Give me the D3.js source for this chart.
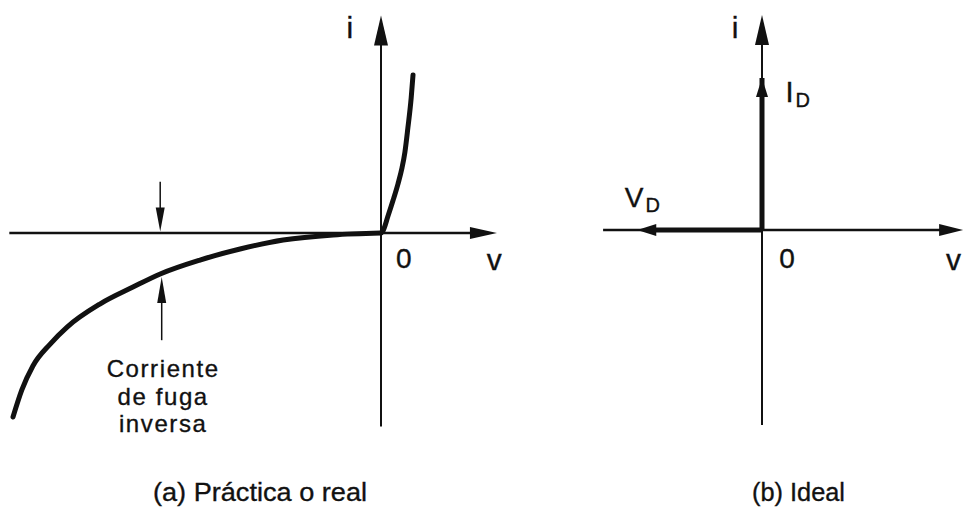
<!DOCTYPE html>
<html>
<head>
<meta charset="utf-8">
<script src="https://cdn.jsdelivr.net/npm/d3@7"></script>
<style>
  body { margin: 0; background: #fff; }
  svg { display: block; }
  text { font-family: "Liberation Sans", Arial, Helvetica, sans-serif; fill: #111; stroke: #111; stroke-width: 0.35px; }
</style>
</head>
<body>
<div id="chart"></div>
<script>
// Curva práctica del diodo (v, i) en unidades arbitrarias
const reverseCurve = [
    { v: -10.0, i: -11.5 }, { v: -9.76, i: -9.81 }, { v: -9.46, i: -8.31 },
    { v: -8.99, i: -6.94 }, { v: -8.53, i: -5.88 }, { v: -7.64, i: -4.44 },
    { v: -6.74, i: -3.38 }, { v: -6.0, i: -2.56 }, { v: -4.92, i: -1.69 },
    { v: -3.83, i: -1.0 }, { v: -2.66, i: -0.44 }, { v: -1.3, i: -0.12 },
    { v: 0, i: 0 }
];
const forwardCurve = [
    { v: 0, i: 0 }, { v: 0.05, i: 0.12 }, { v: 0.19, i: 1.06 }, { v: 0.33, i: 2.06 },
    { v: 0.46, i: 3.06 }, { v: 0.57, i: 4.06 }, { v: 0.65, i: 5.06 },
    { v: 0.73, i: 6.56 }, { v: 0.82, i: 8.44 }, { v: 0.87, i: 9.88 }
];

// Característica ideal
const idealForward = [{ v: 0, i: 0 }, { v: 0, i: 9.5 }];
const idealReverse = [{ v: 0, i: 0 }, { v: -3.4, i: 0 }];

// Textos
const leakMarkV = -6.0;
const leakLabel = ["Corriente", "de fuga", "inversa"];
const captions = ["(a) Práctica o real", "(b) Ideal"];
const axisNames = { x: "v", y: "i", origin: "0" };

const width = 964, height = 508;
const ink = "#111";

const svg = d3.select("#chart").append("svg")
    .attr("width", width)
    .attr("height", height);

// Escalas de cada panel (36.8 px por voltio, 16 px por unidad de corriente)
const xA = d3.scaleLinear().domain([-10, 0]).range([13, 381]);
const yA = d3.scaleLinear().domain([0, 10]).range([233, 73]);
const xB = d3.scaleLinear().domain([-10, 0]).range([395, 762]);
const yB = d3.scaleLinear().domain([0, 10]).range([230, 70]);

// Triángulo relleno con la punta en tip, apuntando en dir
const arrowHead = (g, tip, dir, len, half) => {
    const [x, y] = tip, [dx, dy] = dir;
    const bx = x - dx * len, by = y - dy * len;
    const px = -dy * half, py = dx * half;
    g.append("path")
        .attr("d", `M${x},${y}L${bx + px},${by + py}L${bx - px},${by - py}Z`)
        .attr("fill", ink);
};

const segment = (g, x1, y1, x2, y2, w) => {
    g.append("line")
        .attr("x1", x1).attr("y1", y1)
        .attr("x2", x2).attr("y2", y2)
        .attr("stroke", ink)
        .attr("stroke-width", w);
};

/**
 * Panel (a): característica práctica
 */
const gA = svg.append("g");

// ejes
segment(gA, xA(-10.1), yA(0), xA(3.15) - 10, yA(0), 2.5);
arrowHead(gA, [xA(3.15), yA(0)], [1, 0], 27, 6);
segment(gA, xA(0), yA(-12.1), xA(0), yA(13.6) + 10, 2);
arrowHead(gA, [xA(0), yA(13.6)], [0, -1], 30, 7);

const lineA = d3.line()
    .x(d => xA(d.v))
    .y(d => yA(d.i))
    .curve(d3.curveMonotoneX);

[reverseCurve, forwardCurve].forEach(data => {
    gA.append("path")
        .datum(data)
        .attr("d", lineA)
        .attr("fill", "none")
        .attr("stroke", ink)
        .attr("stroke-width", 5)
        .attr("stroke-linecap", "round");
});

// flechas de la corriente de fuga
const leakI = reverseCurve.find(d => d.v === leakMarkV).i;
const lx = xA(leakMarkV);
segment(gA, lx, yA(3.2), lx, yA(0) - 20, 1.5);
arrowHead(gA, [lx, yA(0) - 1.5], [0, 1], 24, 4.5);
segment(gA, lx + 1.5, yA(-6.7), lx + 1.5, yA(leakI) + 22, 1.5);
arrowHead(gA, [lx + 1.5, yA(leakI) + 3], [0, -1], 26, 4.5);

gA.selectAll(".leak")
    .data(leakLabel)
    .join("text")
    .attr("class", "leak")
    .attr("x", lx + 3)
    .attr("y", (d, k) => yA(-9) + k * 27.5)
    .attr("text-anchor", "middle")
    .style("font-size", "24px")
    .style("letter-spacing", "1.6px")
    .text(d => d);

gA.append("text").attr("x", xA(-0.85)).attr("y", 38)
    .attr("text-anchor", "middle").style("font-size", "30px").text(axisNames.y);
gA.append("text").attr("x", xA(0.62)).attr("y", 268)
    .attr("text-anchor", "middle").style("font-size", "28px").text(axisNames.origin);
gA.append("text").attr("x", xA(3.08)).attr("y", 270)
    .attr("text-anchor", "middle").style("font-size", "30px").text(axisNames.x);

/**
 * Panel (b): característica ideal
 */
const gB = svg.append("g");

segment(gB, xB(-4.33), yB(0), xB(5.48) - 10, yB(0), 2.5);
arrowHead(gB, [xB(5.48), yB(0)], [1, 0], 24, 6);
segment(gB, xB(0), yB(-12.19), xB(0), yB(13.44) + 10, 2);
arrowHead(gB, [xB(0), yB(13.44)], [0, -1], 30, 7);

// tramo de conducción (I_D) y tramo inverso (V_D)
const lineB = d3.line().x(d => xB(d.v)).y(d => yB(d.i));
gB.append("path").datum(idealForward).attr("d", lineB)
    .attr("fill", "none").attr("stroke", ink).attr("stroke-width", 5);
arrowHead(gB, [xB(0), yB(idealForward[1].i)], [0, -1], 19, 6);

gB.append("path").datum([idealReverse[0], { v: -3.05, i: 0 }]).attr("d", lineB)
    .attr("fill", "none").attr("stroke", ink).attr("stroke-width", 5);
arrowHead(gB, [xB(idealReverse[1].v), yB(0)], [-1, 0], 19, 6);

const idLabel = gB.append("text").attr("x", xB(0.64)).attr("y", yB(8))
    .style("font-size", "29px");
idLabel.append("tspan").text("I");
idLabel.append("tspan").attr("dx", 2).attr("dy", 5).style("font-size", "20px").text("D");

const vdLabel = gB.append("text").attr("x", xB(-3.74)).attr("y", yB(1.44))
    .style("font-size", "28px");
vdLabel.append("tspan").text("V");
vdLabel.append("tspan").attr("dx", 2).attr("dy", 5).style("font-size", "20px").text("D");

gB.append("text").attr("x", xB(0.68)).attr("y", 268)
    .attr("text-anchor", "middle").style("font-size", "28px").text(axisNames.origin);
gB.append("text").attr("x", xB(0) - 27).attr("y", 38)
    .attr("text-anchor", "middle").style("font-size", "30px").text(axisNames.y);
gB.append("text").attr("x", 946).attr("y", 270)
    .style("font-size", "30px").text(axisNames.x);

// Pies de figura
svg.selectAll(".caption")
    .data(captions)
    .join("text")
    .attr("class", "caption")
    .attr("x", (d, k) => k === 0 ? 153 : 752)
    .attr("y", 501)
    .attr("textLength", (d, k) => k === 0 ? 214 : 93)
    .attr("lengthAdjust", "spacingAndGlyphs")
    .style("font-size", "26px")
    .text(d => d);
</script>
</body>
</html>
